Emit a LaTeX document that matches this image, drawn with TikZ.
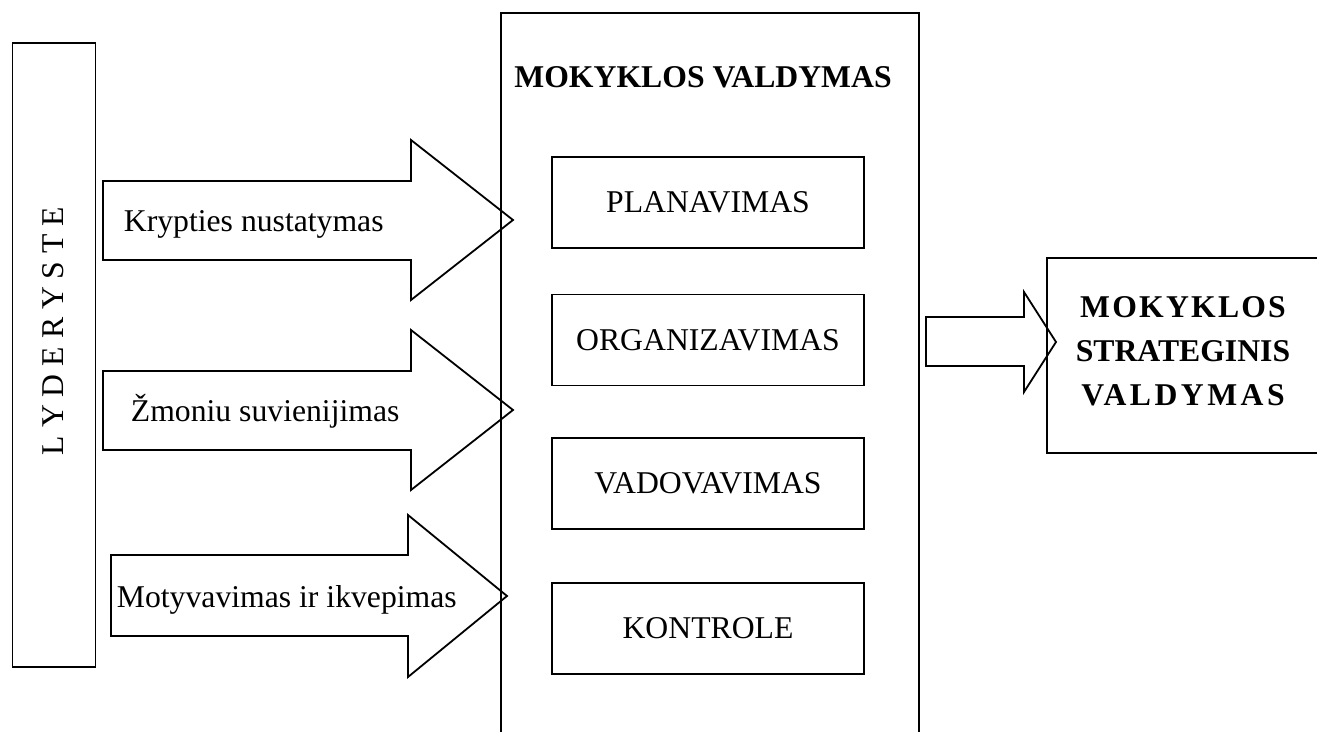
\documentclass[tikz,border=0pt]{standalone}
\usepackage{fontspec}
\setmainfont{Liberation Serif}
\usetikzlibrary{positioning}
\newcommand{\diagfont}{\fontsize{31.7}{44}\selectfont}
\newcommand{\spread}[2]{{\addfontfeature{LetterSpace=#1}#2}}

\begin{document}
\begin{tikzpicture}[x=1pt,y=-1pt,line width=1.8pt,
  box/.style={draw,minimum width=312pt,minimum height=91pt,font=\diagfont},
  lbl/.style={anchor=base west,inner sep=0pt,font=\diagfont},
  blockarrow/.style={draw,line join=miter}]
\useasboundingbox (0,0) rectangle (1317,731);
  % left column
  \node[draw,minimum width=83pt,minimum height=624pt] (lead) at (54,355) {};
  \node[rotate=90,font=\diagfont] (leadtxt) at (53,331) {L Y D E R Y S T E};
  % middle column
  \node[draw,minimum width=418pt,minimum height=740pt,anchor=north west] (mgmt) at (500,12) {};
  \node[anchor=base,font=\diagfont\bfseries] (title) at (703,87) {MOKYKLOS VALDYMAS};
  \node[box] (plan) at (708,202.5) {PLANAVIMAS};
  \node[box] (org) at (708,340) {ORGANIZAVIMAS};
  \node[box] (lead2) at (708,483.5) {VADOVAVIMAS};
  \node[box] (ctrl) at (708,628.5) {KONTROLE};
  % block arrows
  \draw[blockarrow] (103,181) -- (411,181) -- (411,140) -- (513,220) -- (411,300) -- (411,260) -- (103,260) -- cycle;
  \node[lbl] (dir) at (123,231) {Krypties nustatymas};
  \draw[blockarrow] (103,371) -- (411,371) -- (411,330) -- (513,410) -- (411,490) -- (411,450) -- (103,450) -- cycle;
  \node[lbl] (unite) at (130,421) {Žmoniu suvienijimas};
  \draw[blockarrow] (111,555) -- (408,555) -- (408,515) -- (507,596) -- (408,677) -- (408,636) -- (111,636) -- cycle;
  \node[lbl] (motiv) at (116,607) {Motyvavimas ir ikvepimas};
  % right column
  \draw[blockarrow] (926,317) -- (1024,317) -- (1024,292) -- (1056,342) -- (1024,392) -- (1024,366) -- (926,366) -- cycle;
  \node[draw,minimum width=274pt,minimum height=195pt,anchor=north west] (strat) at (1046,257) {};
  \node[align=center,font=\diagfont\bfseries] (strattxt) at (1183,351)
    {\spread{7}{MOKYKLOS}\\STRATEGINIS\\\spread{11}{VALDYMAS}};
\end{tikzpicture}
\end{document}
